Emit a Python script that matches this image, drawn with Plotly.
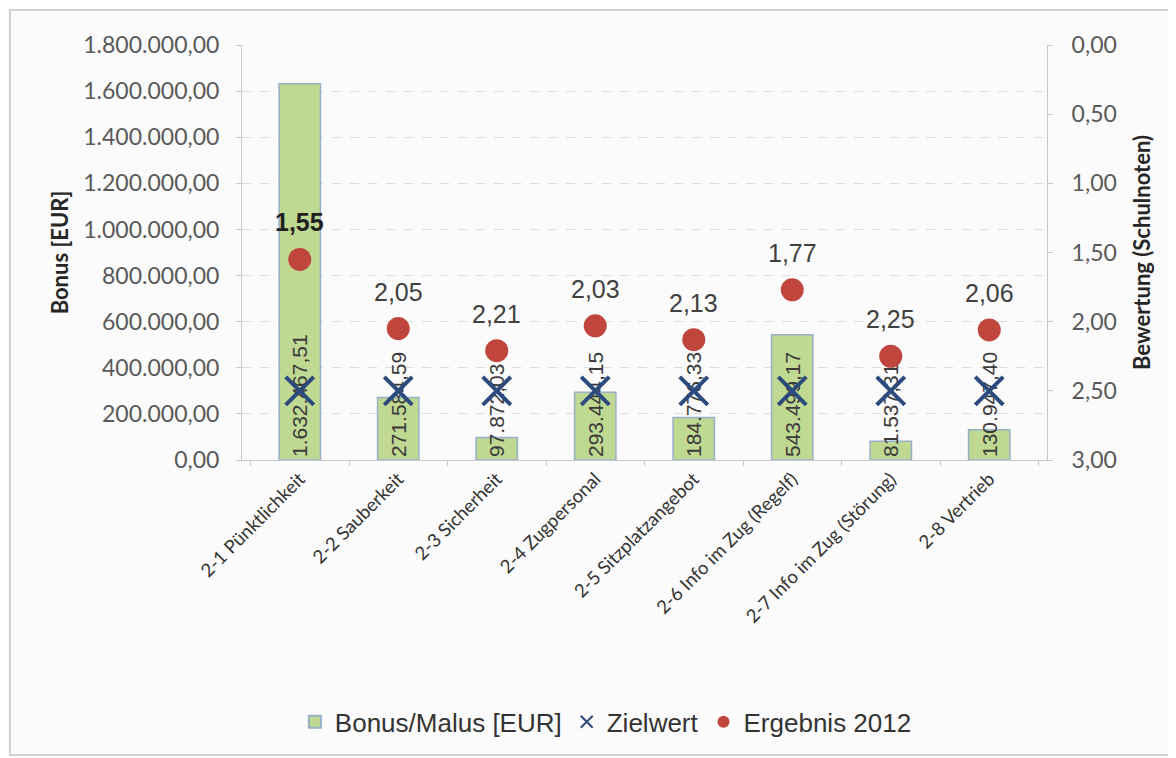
import plotly.graph_objects as go

categories = [
    "2-1 Pünktlichkeit",
    "2-2 Sauberkeit",
    "2-3 Sicherheit",
    "2-4 Zugpersonal",
    "2-5 Sitzplatzangebot",
    "2-6 Info im Zug (Regelf)",
    "2-7 Info im Zug (Störung)",
    "2-8 Vertrieb",
]
bonus_eur = [1632467.51, 271584.59, 97872.03, 293444.15, 184776.33, 543499.17, 81537.31, 130947.40]
zielwert = [2.50, 2.50, 2.50, 2.50, 2.50, 2.50, 2.50, 2.50]
ergebnis_2012 = [1.55, 2.05, 2.21, 2.03, 2.13, 1.77, 2.25, 2.06]

axis_font = "Lato, 'Open Sans', sans-serif"
label_font = "'Liberation Sans', Arial, sans-serif"


def de(v):
    return f"{v:.2f}".replace(".", ",")


fig = go.Figure()

fig.add_trace(go.Bar(
    x=categories,
    y=bonus_eur,
    name="Bonus/Malus [EUR]",
    width=0.42,
    marker=dict(color="#bfd892", line=dict(color="#97b0c8", width=1.5)),
    texttemplate="%{y:,.2f}",
    textposition="inside",
    insidetextanchor="start",
    textangle=-90,
    constraintext="none",
    textfont=dict(family=label_font, size=21, color="#3a3a3a"),
))

fig.add_trace(go.Scatter(
    x=categories,
    y=zielwert,
    yaxis="y2",
    name="Zielwert",
    mode="markers",
    marker=dict(symbol="x-thin", size=28, color="#2d4a7c",
                line=dict(color="#2d4a7c", width=4)),
))

fig.add_trace(go.Scatter(
    x=categories,
    y=ergebnis_2012,
    yaxis="y2",
    name="Ergebnis 2012",
    mode="markers",
    marker=dict(symbol="circle", size=23, color="#c0463d"),
))

# data labels for the results, above the markers
for i, (c, v) in enumerate(zip(categories, ergebnis_2012)):
    txt = de(v)
    if i == 0:
        txt = "<b>" + txt + "</b>"
    fig.add_annotation(
        x=c, y=v, xref="x", yref="y2", text=txt, showarrow=False,
        yshift=37, font=dict(family=label_font, size=25,
                             color="#1f1f1f" if i == 0 else "#404040"),
    )

# the page body adds 8px, so margins are set 8px smaller on the left/top
fig.update_layout(
    width=1176,
    height=758,
    separators=",.",
    paper_bgcolor="#fbfbfb",
    plot_bgcolor="#fbfbfb",
    margin=dict(l=234, r=137, t=37, b=306, autoexpand=False),
    font=dict(family=axis_font, size=23, color="#595959"),
    xaxis=dict(
        tickangle=-45,
        tickfont=dict(family=axis_font, size=18.5, color="#333333"),
        showline=True,
        linecolor="#c8c8c8",
        ticks="outside",
        tickcolor="#c8c8c8",
        ticklen=5,
        tickson="boundaries",
        showgrid=False,
        automargin=False,
    ),
    yaxis=dict(
        title=dict(text="<b>Bonus [EUR]</b>", font=dict(size=22, color="#262626"), standoff=8),
        range=[0, 1800000],
        dtick=200000,
        tickformat=",.2f",
        showline=True,
        linecolor="#c8c8c8",
        ticks="outside",
        tickcolor="#c8c8c8",
        ticklen=5,
        ticklabelstandoff=12,
        gridcolor="#dcdcdc",
        griddash="dash",
        zeroline=False,
        automargin=False,
    ),
    yaxis2=dict(
        title=dict(text="<b>Bewertung (Schulnoten)</b>", font=dict(size=22, color="#262626"), standoff=18),
        overlaying="y",
        side="right",
        range=[3, 0],
        dtick=0.5,
        tickformat=".2f",
        showline=True,
        linecolor="#c8c8c8",
        ticks="outside",
        tickcolor="#c8c8c8",
        ticklen=5,
        ticklabelstandoff=14,
        showgrid=False,
        zeroline=False,
        automargin=False,
    ),
    legend=dict(
        orientation="h",
        x=0.452,
        xanchor="center",
        y=-0.631,
        yanchor="middle",
        font=dict(family=label_font, size=26, color="#333333"),
        itemsizing="constant",
        itemwidth=30,
        bgcolor="rgba(0,0,0,0)",
    ),
    shapes=[dict(
        type="rect", xref="paper", yref="paper",
        x0=(10 - 242) / 805, x1=(1172 - 242) / 805,
        y0=(460 - 755) / 415, y1=(460 - 10) / 415,
        line=dict(color="#c4c4c4", width=1.5),
    )],
)

fig.write_html("out.html")
